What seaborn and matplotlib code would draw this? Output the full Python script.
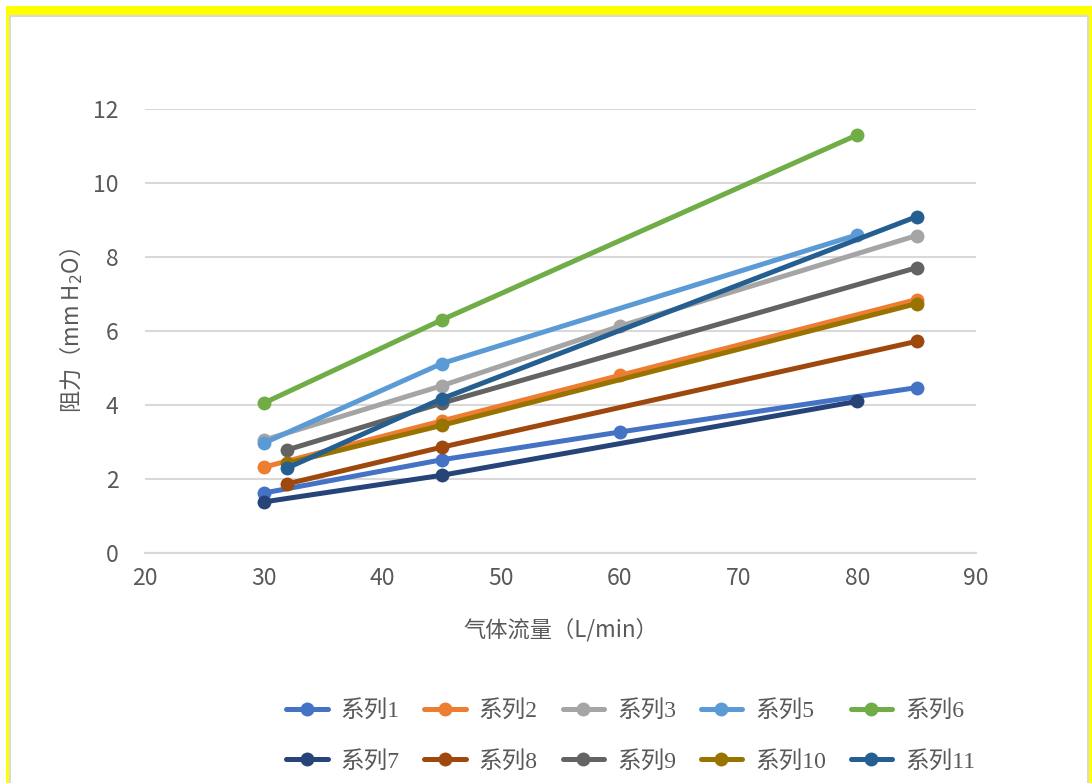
import numpy as np
import pandas as pd
import seaborn as sns
import matplotlib
matplotlib.use("Agg")
import matplotlib.pyplot as plt
from matplotlib.lines import Line2D
from matplotlib.patches import Rectangle

sns.set_theme(style="white")
plt.rcParams['font.family'] = ['Noto Sans CJK SC', 'DejaVu Sans']
plt.rcParams['axes.unicode_minus'] = False

# Measured resistance vs gas flow for each sample series
series_names = ["系列1", "系列2", "系列3", "系列5", "系列6",
                "系列7", "系列8", "系列9", "系列10", "系列11"]
flow_s1 = [30, 45, 60, 85]
res_s1 = [1.62, 2.52, 3.27, 4.47]
flow_s2 = [30, 45, 60, 85]
res_s2 = [2.32, 3.57, 4.80, 6.85]
flow_s3 = [30, 45, 60, 85]
res_s3 = [3.05, 4.52, 6.13, 8.58]
flow_s5 = [30, 45, 80]
res_s5 = [2.97, 5.12, 8.60]
flow_s6 = [30, 45, 80]
res_s6 = [4.05, 6.30, 11.30]
flow_s7 = [30, 45, 80]
res_s7 = [1.38, 2.10, 4.10]
flow_s8 = [32, 45, 85]
res_s8 = [1.87, 2.86, 5.72]
flow_s9 = [32, 45, 85]
res_s9 = [2.79, 4.05, 7.71]
flow_s10 = [32, 45, 85]
res_s10 = [2.43, 3.45, 6.74]
flow_s11 = [32, 45, 85]
res_s11 = [2.30, 4.17, 9.09]

flows = [flow_s1, flow_s2, flow_s3, flow_s5, flow_s6,
         flow_s7, flow_s8, flow_s9, flow_s10, flow_s11]
resist = [res_s1, res_s2, res_s3, res_s5, res_s6,
          res_s7, res_s8, res_s9, res_s10, res_s11]

colors = ["#4472C4", "#ED7D31", "#A5A5A5", "#5B9BD5", "#70AD47",
          "#264478", "#9E480E", "#636363", "#997300", "#255E91"]

df = pd.concat(
    [pd.DataFrame({"flow": f, "resistance": r, "series": n})
     for n, f, r in zip(series_names, flows, resist)],
    ignore_index=True)

fig = plt.figure(figsize=(10.92, 7.83), dpi=100)

# yellow frame with a thin grey chart border inside
fig.patches.append(Rectangle((6 / 1092, 0), 1.0, 1 - 6 / 783,
                             transform=fig.transFigure, facecolor="#FFFF00",
                             edgecolor="none", zorder=-3))
fig.patches.append(Rectangle((10 / 1092, -0.01), 1078 / 1092, 1 - 16 / 783 + 0.01,
                             transform=fig.transFigure, facecolor="white",
                             edgecolor="#D9D9D9", linewidth=1.5, zorder=-2))

ax = fig.add_axes([145 / 1092, 1 - 553 / 783, 831 / 1092, 444 / 783])
ax.set_facecolor("none")

palette = dict(zip(series_names, colors))
sns.lineplot(data=df, x="flow", y="resistance", hue="series",
             hue_order=series_names, palette=palette, marker="o",
             markersize=10, markeredgewidth=0, linewidth=3.6,
             legend=False, ax=ax, estimator=None, sort=True)

ax.set_xlim(20, 90)
ax.set_ylim(0, 12)
ax.set_xticks(np.arange(20, 91, 10))
ax.set_yticks(np.arange(0, 13, 2))
ax.yaxis.grid(True, color="#D9D9D9", linewidth=1.5)
ax.xaxis.grid(False)
ax.set_axisbelow(True)
for side in ["top", "right", "left"]:
    ax.spines[side].set_visible(False)
ax.spines["bottom"].set_color("#D9D9D9")
ax.spines["bottom"].set_linewidth(1.5)
ax.tick_params(axis="both", length=0, labelsize=16.5, labelcolor="#595959")
ax.tick_params(axis="y", pad=19)
ax.tick_params(axis="x", pad=10)

ax.set_xlabel("气体流量（L/min）", fontsize=16, color="#595959", labelpad=20)
ax.set_ylabel("阻力（mm H$_2$O）", fontsize=16, color="#595959", labelpad=6)

# legend laid out row by row: matplotlib fills columns first, so interleave
nrows, ncols = 2, 5
order = [r * ncols + c for c in range(ncols) for r in range(nrows)]
handles = [Line2D([0], [0], color=colors[i], linewidth=3.6, marker="o",
                  markersize=10, markeredgewidth=0) for i in order]
labels = [series_names[i] for i in order]
leg = fig.legend(handles, labels, loc="upper left",
                 bbox_to_anchor=(265 / 1092, 1 - 679 / 783), ncol=ncols,
                 frameon=False, handlelength=1.75, handletextpad=0.55,
                 columnspacing=1.05, labelspacing=1.2,
                 prop={"family": ["Liberation Serif", "Noto Sans CJK SC"], "size": 17})
for t in leg.get_texts():
    t.set_color("#595959")

fig.savefig("out.png", dpi=100)
